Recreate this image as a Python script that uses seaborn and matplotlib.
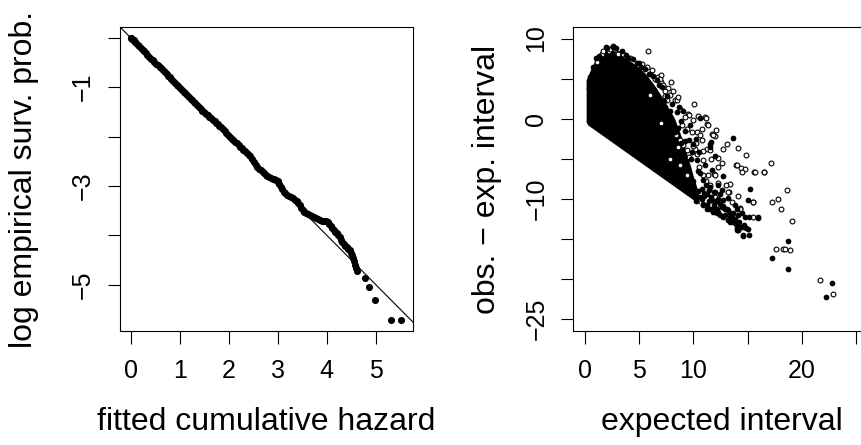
import numpy as np
import pandas as pd
import seaborn as sns
import matplotlib.pyplot as plt

# style
sns.set_theme(style="ticks")
plt.rcParams['font.family'] = ['Liberation Sans', 'DejaVu Sans']
plt.rcParams['text.color'] = 'black'
plt.rcParams['axes.labelcolor'] = 'black'
MINUS = "\u2212"

# ---- left panel: fitted cumulative hazard vs log empirical survival ----
haz = [0.00, 0.01, 0.02, 0.04, 0.06, 0.08, 0.11, 0.14, 0.17, 0.20,
       0.24, 0.27, 0.31, 0.34, 0.38, 0.41, 0.45, 0.48, 0.52, 0.55,
       0.59, 0.62, 0.66, 0.69, 0.73, 0.76, 0.80, 0.83, 0.87, 0.90,
       0.94, 0.97, 1.01, 1.04, 1.08, 1.11, 1.15, 1.18, 1.22, 1.25,
       1.29, 1.32, 1.36, 1.39, 1.43, 1.46, 1.50, 1.53, 1.57, 1.60,
       1.64, 1.67, 1.71, 1.74, 1.78, 1.81, 1.85, 1.88, 1.92, 1.95,
       1.99, 2.02, 2.06, 2.09, 2.13, 2.16, 2.20, 2.23, 2.27, 2.30,
       2.34, 2.37, 2.41, 2.44, 2.48, 2.51, 2.55, 2.58, 2.62, 2.65,
       2.69, 2.72, 2.76, 2.79, 2.83, 2.86, 2.90, 2.93, 2.97, 3.00,
       3.03, 3.06, 3.09, 3.12, 3.15, 3.19, 3.23, 3.27, 3.31, 3.35,
       3.39, 3.42, 3.45, 3.48, 3.51, 3.54, 3.58, 3.62, 3.66, 3.70,
       3.74, 3.78, 3.82, 3.86, 3.90, 3.94, 3.98, 4.02, 4.05, 4.08,
       4.11, 4.14, 4.17, 4.20, 4.23, 4.26, 4.29, 4.32, 4.35, 4.38,
       4.41, 4.44, 4.47, 4.50, 4.52, 4.54, 4.56, 4.58, 4.60, 4.61,
       4.79, 4.86, 4.98, 5.32, 5.51]
log_surv = [-0.00, -0.01, -0.02, -0.04, -0.05, -0.08, -0.11, -0.14, -0.17, -0.20,
            -0.24, -0.27, -0.31, -0.35, -0.38, -0.42, -0.45, -0.49, -0.52, -0.56,
            -0.59, -0.62, -0.66, -0.70, -0.73, -0.77, -0.80, -0.84, -0.88, -0.91,
            -0.95, -0.98, -1.02, -1.05, -1.09, -1.12, -1.16, -1.19, -1.23, -1.26,
            -1.30, -1.33, -1.37, -1.41, -1.44, -1.48, -1.51, -1.54, -1.57, -1.60,
            -1.63, -1.66, -1.69, -1.72, -1.75, -1.78, -1.81, -1.84, -1.88, -1.92,
            -1.96, -2.00, -2.04, -2.07, -2.11, -2.14, -2.18, -2.21, -2.24, -2.27,
            -2.30, -2.33, -2.37, -2.40, -2.46, -2.51, -2.57, -2.61, -2.65, -2.68,
            -2.71, -2.74, -2.77, -2.79, -2.81, -2.83, -2.85, -2.86, -2.88, -2.91,
            -2.96, -3.02, -3.07, -3.12, -3.15, -3.18, -3.21, -3.23, -3.25, -3.28,
            -3.31, -3.35, -3.39, -3.44, -3.49, -3.52, -3.55, -3.57, -3.59, -3.61,
            -3.63, -3.65, -3.68, -3.70, -3.71, -3.72, -3.72, -3.74, -3.78, -3.82,
            -3.86, -3.90, -3.93, -3.96, -4.00, -4.04, -4.09, -4.13, -4.17, -4.21,
            -4.24, -4.27, -4.30, -4.35, -4.41, -4.47, -4.53, -4.60, -4.66, -4.72,
            -4.86, -5.04, -5.31, -5.71, -5.71]

# ---- right panel: expected interval vs obs - exp interval ----
# solid region where thousands of points overlap
core_x = [0.15, 0.15, 0.60, 0.90, 1.20, 1.70, 2.40, 3.20, 4.00, 4.80,
          5.60, 6.30, 7.00, 7.70, 8.30, 8.80, 9.30, 9.70, 10.10, 10.50,
          10.60, 0.30]
core_y = [-0.45, 4.80, 6.20, 7.00, 7.90, 8.60, 8.70, 8.00, 7.30, 6.60,
          5.60, 4.40, 3.00, 1.40, 0.00, -1.80, -3.80, -5.60, -7.50, -9.20,
          -10.70, -0.83]

# censored (open) points
open_x = [1.14, 1.54, 1.63, 2.18, 2.31, 2.61, 2.92, 3.07, 3.53, 4.15,
          5.23, 5.75, 5.84, 6.46, 6.76, 6.98, 7.23, 7.38, 7.53, 7.69,
          7.93, 8.09, 8.30, 8.46, 8.61, 9.53, 9.59, 9.99, 10.09, 10.30,
          10.45, 11.07, 11.16, 11.23, 11.38, 11.69, 12.05, 12.00, 8.76, 9.07,
          8.60, 9.38, 10.15, 8.92, 9.38, 9.84, 10.60, 10.76, 9.93, 10.30,
          11.22, 11.50, 11.84, 12.76, 13.07, 12.30, 14.14, 14.85, 13.90, 14.39,
          14.76, 15.60, 16.50, 17.16, 10.86, 11.38, 11.90, 12.30, 13.28, 14.30,
          15.53, 17.22, 17.83, 18.05, 18.60, 19.07, 17.62, 18.30, 18.50, 18.90,
          21.68, 22.90, 12.30, 13.38, 13.22, 11.53, 13.99, 14.45, 15.68, 16.50,
          15.53, 15.47, 14.30, 10.91, 12.00, 6.00, 7.00, 7.80, 8.80, 9.40,
          7.00, 7.80, 8.80, 9.20, 10.80, 10.20, 10.90, 11.60, 12.60, 11.20,
          12.00, 13.00, 13.60, 14.10, 9.60, 10.50, 8.40, 6.20, 6.90, 7.40]
open_y = [7.04, 8.08, 8.40, 8.50, 8.70, 9.04, 8.17, 8.08, 8.08, 7.58,
          6.84, 6.42, 8.42, 4.97, 5.17, 4.55, 4.15, 2.90, 2.28, 3.86,
          4.64, 3.52, 2.36, 2.28, 2.69, 0.62, 0.41, -0.21, 1.87, -1.67,
          0.33, 0.20, 0.12, -0.62, -0.75, -1.87, -1.45, -2.20, -2.70, -3.32,
          -3.50, -3.94, -3.73, -0.83, -1.24, -1.66, -2.07, -2.70, -3.44, -4.35,
          -3.73, -3.94, -2.03, -3.81, -3.11, -4.89, -3.61, -4.56, -5.72, -6.14,
          -6.22, -6.63, -6.63, -5.51, -5.10, -6.97, -6.92, -7.96, -9.12, -11.10,
          -10.40, -10.36, -10.00, -11.20, -8.90, -12.77, -16.25, -16.20, -16.20, -16.40,
          -20.15, -21.80, -6.00, -8.08, -9.12, -8.30, -5.81, -6.64, -6.64, -6.64,
          -10.37, -12.24, -11.20, -7.05, -7.05, 3.00, -0.50, -5.00, -5.80, -7.00,
          5.50, 3.00, 1.20, 0.20, -1.30, -3.00, -4.00, -5.00, -5.50, -7.80,
          -9.80, -8.20, -10.40, -9.60, -4.80, -6.00, -2.00, 6.10, 4.90, 3.40]

# event (filled) points
filled_x = [13.68, 11.53, 11.53, 11.60, 12.76, 15.22, 15.07, 15.93, 15.16, 13.99,
            14.60, 15.16, 13.38, 14.15, 18.76, 17.28, 18.70, 22.82, 22.20, 10.92,
            11.53, 12.15, 12.76, 13.22, 13.68, 14.30, 11.68, 12.30, 12.45, 13.07,
            13.53, 11.22, 10.76, 10.60, 11.90, 12.45, 11.53, 12.76, 13.99, 14.45,
            14.76, 8.70, 10.60, 12.61, 12.30, 12.92, 14.14, 14.45, 10.20, 10.00,
            10.40, 9.80, 9.20, 8.60, 7.40, 6.30, 5.20, 4.00, 2.90, 2.00,
            1.30, 0.70, 0.50, 0.40, 12.00, 11.10, 11.70, 13.20, 13.80, 9.50,
            10.10, 15.99, 14.60, 13.53, 12.45, 11.84, 11.22, 4.40, 5.00, 5.50,
            6.00, 6.60, 7.10, 7.60, 8.00, 8.50, 8.90, 9.20, 9.60, 9.90,
            10.30, 10.60, 10.90, 11.20, 11.00, 10.90, 11.40, 11.90, 12.20, 12.60,
            13.40, 13.90, 14.10, 14.90, 7.30, 8.00, 8.90, 9.50, 10.00, 9.00,
            9.70, 10.20, 10.50, 10.40, 10.80, 11.30, 11.80, 12.30, 12.90, 13.40,
            13.80, 14.20, 14.70, 15.00, 14.00, 11.00, 11.60, 12.10, 12.70, 13.20,
            13.70, 11.40, 12.00, 6.80, 7.80, 8.30, 9.10, 9.60, 10.10, 3.40,
            4.80, 5.90, 1.00, 1.90, 2.60, 3.80, 6.40]
filled_y = [-2.36, -3.11, -3.52, -2.90, -7.13, -8.71, -10.16, -12.31, -12.23, -13.89,
            -14.60, -14.51, -11.80, -12.00, -15.20, -17.33, -18.70, -20.44, -22.26, -10.57,
            -11.19, -11.80, -12.23, -12.65, -12.85, -13.47, -10.16, -9.95, -10.57, -11.19,
            -12.02, -9.33, -8.71, -9.74, -9.12, -9.33, -8.50, -10.16, -11.19, -11.80,
            -12.23, 1.45, 0.12, -8.90, -8.30, -11.20, -13.89, -13.48, -10.30, -7.80,
            -6.50, -5.00, -2.80, -1.20, 1.50, 5.30, 6.50, 7.60, 8.80, 8.80,
            7.80, 6.50, 5.20, 3.80, -4.60, -5.80, -6.40, -9.90, -10.70, -9.10,
            -9.50, -12.24, -14.50, -12.65, -12.02, -11.60, -11.20, 7.40, 6.90, 6.20,
            5.60, 4.80, 3.90, 2.80, 1.90, 0.90, -0.30, -1.50, -2.60, -4.10,
            -5.20, -6.80, -7.60, -8.30, -9.60, -10.70, -10.20, -10.70, -11.30, -11.00,
            -12.90, -13.10, -13.90, -13.60, 2.20, -0.50, -3.00, -6.20, -3.20, 1.00,
            -0.80, -2.50, -4.20, -9.00, -10.00, -10.80, -11.20, -11.60, -12.00, -12.30,
            -12.50, -12.90, -13.20, -13.80, -13.60, -9.20, -9.80, -10.20, -10.90, -11.40,
            -11.80, -8.90, -9.10, 4.20, 1.00, -1.60, -4.60, -7.60, -8.80, 8.40,
            7.00, 5.60, 7.60, 8.90, 9.00, 7.90, 3.60]

left_xticks = [0, 1, 2, 3, 4, 5]
left_yticks = [0, -1, -2, -3, -4, -5]
left_ylabels = ["", MINUS + "1", "", MINUS + "3", "", MINUS + "5"]
right_xticks = [0, 5, 10, 15, 20, 25]
right_xlabels = ["0", "5", "10", "", "20", ""]
right_yticks = [10, 5, 0, -5, -10, -15, -20, -25]
right_ylabels = ["10", "", "0", "", MINUS + "10", "", "", MINUS + "25"]

W, H = 862, 445
fig = plt.figure(figsize=(W / 100, H / 100), dpi=100)
ax1 = fig.add_axes([120 / W, 1 - 331 / H, 293 / W, 304 / H])
ax2 = fig.add_axes([573.3 / W, 1 - 331 / H, (870 - 573.3) / W, 304 / H])

# left
sns.scatterplot(x=haz, y=log_surv, ax=ax1, color="black", s=26, linewidth=0)
ax1.axline((0, 0), slope=-1, color="black", lw=0.8)
ax1.set_xlim(-0.22, 5.76)
ax1.set_ylim(-5.94, 0.22)
ax1.set_xticks(left_xticks)
ax1.set_xticklabels([str(t) for t in left_xticks])
ax1.set_yticks(left_yticks)
ax1.set_yticklabels(left_ylabels, rotation=90, va="center")
ax1.set_xlabel("fitted cumulative hazard", fontsize=23, labelpad=17.5, color="black")
ax1.set_ylabel("log empirical surv. prob.", fontsize=23, labelpad=23, color="black")

# right
ax2.fill(core_x, core_y, color="black", lw=0, zorder=1)
sns.scatterplot(x=open_x, y=open_y, ax=ax2, s=12, marker="o",
                facecolor="white", edgecolor="black", linewidth=0.8, zorder=2)
sns.scatterplot(x=filled_x, y=filled_y, ax=ax2, s=17, color="black",
                linewidth=0, zorder=3)
ax2.set_xlim(-1.08, 26.3)
ax2.set_ylim(-26.46, 11.44)
ax2.set_xticks(right_xticks)
ax2.set_xticklabels(right_xlabels)
ax2.set_yticks(right_yticks)
ax2.set_yticklabels(right_ylabels, rotation=90, va="center")
ax2.set_xlabel("expected interval", fontsize=23, labelpad=17.5, color="black")
ax2.set_ylabel(f"obs. {MINUS} exp. interval", fontsize=23, labelpad=16, color="black")

for ax in (ax1, ax2):
    ax.tick_params(length=9, width=0.8, pad=9, labelsize=18,
                   direction="out", color="black", labelcolor="black")
    ax.tick_params(axis="x", pad=11)
    for sp in ax.spines.values():
        sp.set_visible(True)
        sp.set_color("black")
        sp.set_linewidth(0.8)
    ax.grid(False)

fig.savefig("out.png", dpi=100)
